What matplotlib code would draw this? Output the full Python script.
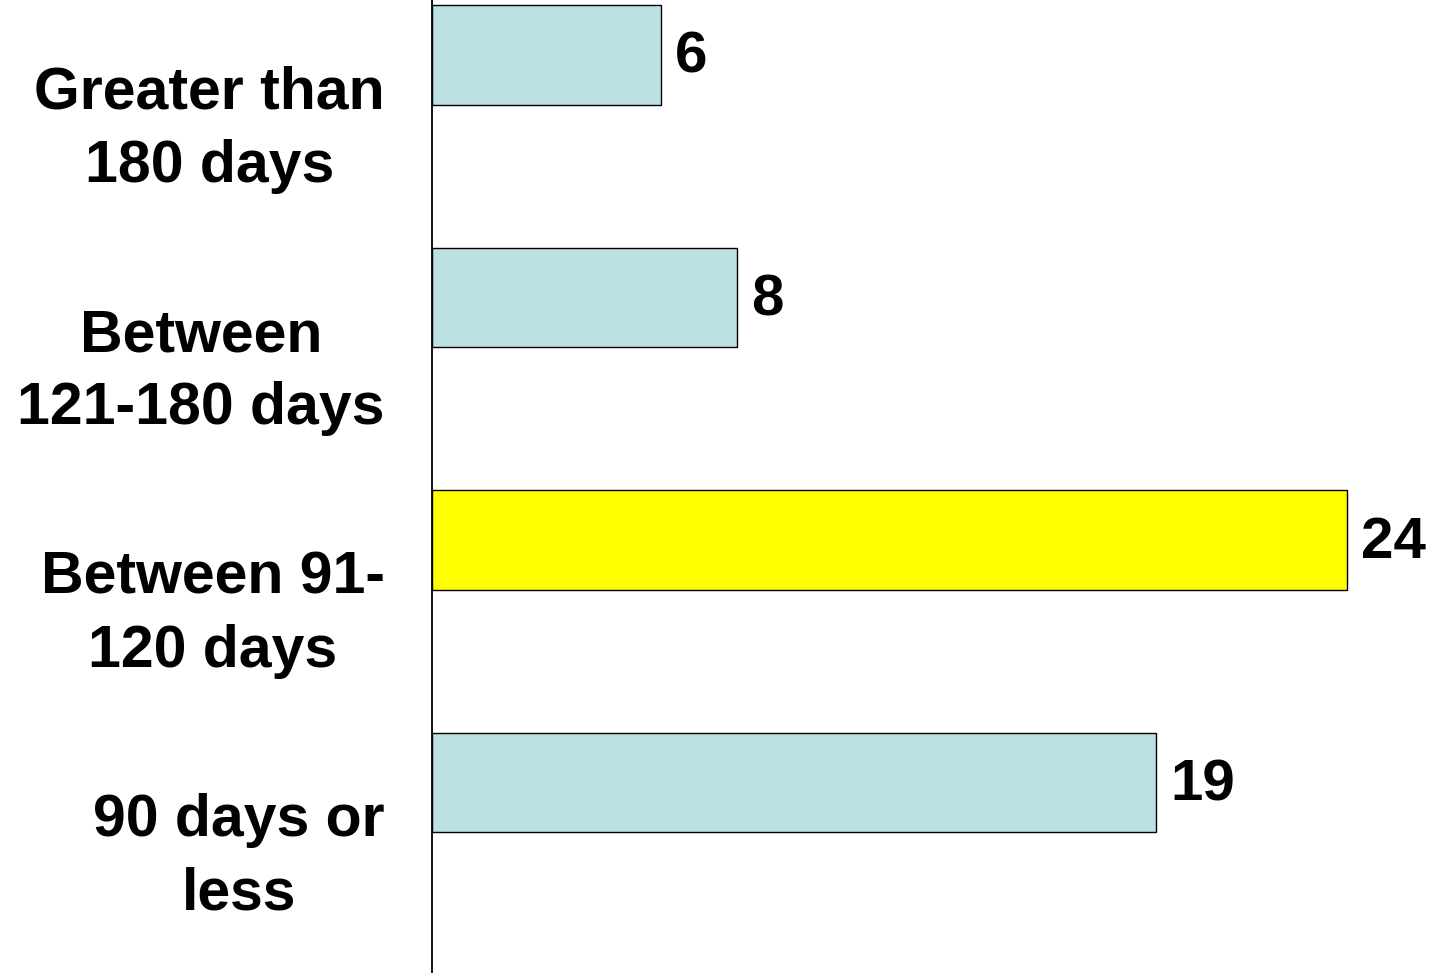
import numpy as np
import matplotlib
matplotlib.use("Agg")
import matplotlib.pyplot as plt

# Datos --------------------------------
categorias = ["Greater than\n180 days", "Between\n121-180 days",
              "Between 91-\n120 days", "90 days or\nless"]
valores = [6, 8, 24, 19]
colores = ["#BBE0E3", "#BBE0E3", "#FFFF00", "#BBE0E3"]

plt.rcParams["font.family"] = ["Liberation Sans", "DejaVu Sans"]
plt.rcParams["font.weight"] = "bold"

fig = plt.figure(figsize=(14.32, 9.73), dpi=100, facecolor="white")
ax = fig.add_axes([432/1432, 0, 1 - 432/1432, 1])

y = np.arange(len(categorias))
ax.barh(y - 0.297, valores, height=0.41, color=colores,
        edgecolor="black", linewidth=1.0)

for yi, v in zip(y, valores):
    ax.text(v + 0.37, yi - 0.285, str(v), va="center", ha="left",
            fontsize=42, fontweight="bold")

ax.set_xlim(0, 26.23)
ax.set_ylim(3.489, -0.524)
ax.set_xticks([])
# etiquetas un poco arriba del centro de cada categoria
ax.set_yticks(y - 0.05)
ax.set_yticklabels(categorias, fontsize=42.5, fontweight="bold")
for lbl in ax.get_yticklabels():
    lbl.set_multialignment("center")
    lbl.set_linespacing(1.42)
ax.tick_params(axis="y", length=0, pad=34)

for s in ["top", "right", "bottom"]:
    ax.spines[s].set_visible(False)
ax.spines["left"].set_linewidth(1.3)

fig.savefig("out.png", dpi=100, facecolor="white")
